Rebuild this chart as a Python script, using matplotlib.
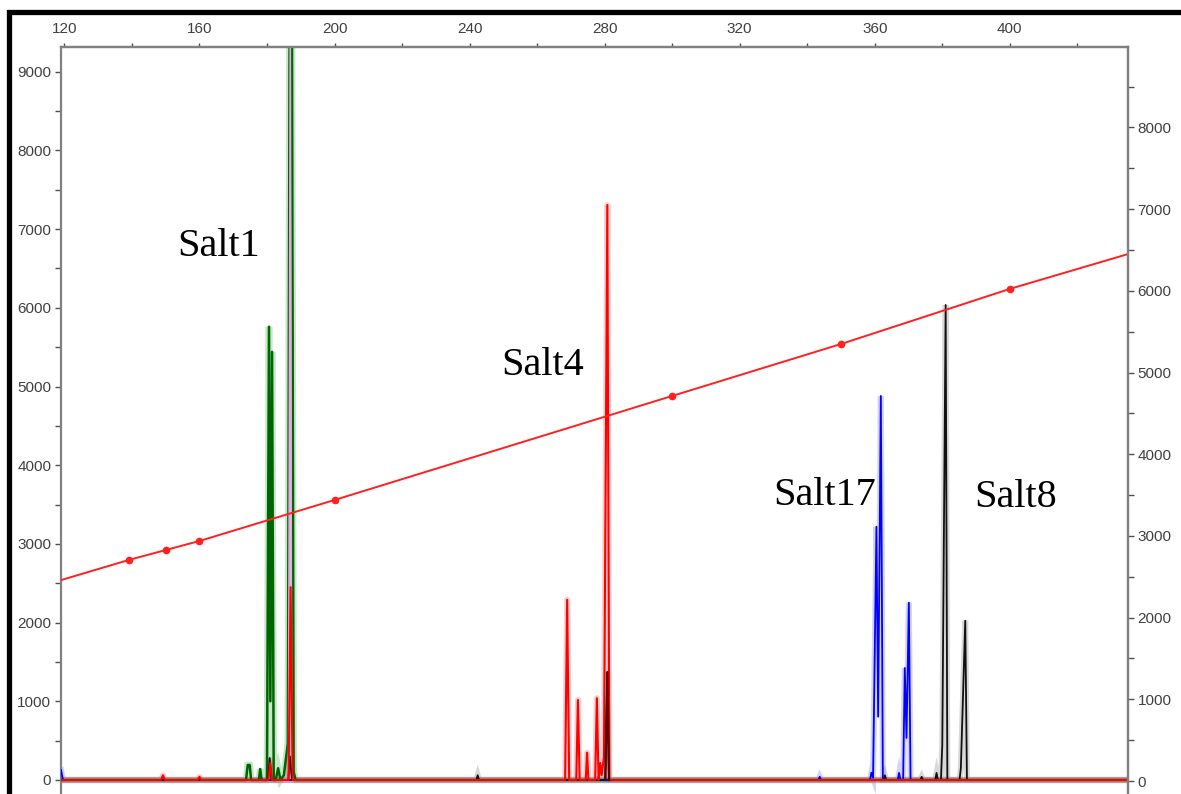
import matplotlib
matplotlib.use("Agg")
import matplotlib.pyplot as plt
from matplotlib.patches import Rectangle
from matplotlib.ticker import MultipleLocator

# size standard (bp) and fitted curve
std_bp = [139, 150, 160, 200, 300, 350, 400]
std_height = [2795, 2922, 3037, 3558, 4880, 5540, 6240]
fit_bp = [119, 139, 150, 160, 200, 300, 350, 400, 435]
fit_height = [2540, 2795, 2922, 3037, 3558, 4880, 5540, 6240, 6683]

# dye traces: (bp, rfu) vertices
green_bp = [119, 173.8, 174.3, 174.9, 175.3, 177.6, 178.0, 178.4, 180.0, 180.6, 181.0, 181.5, 182.0,
            182.6, 183.3, 184.0, 185.0, 186.2, 186.7, 187.4, 187.9, 188.5, 435]
green_rfu = [0, 0, 190, 190, 0, 0, 140, 0, 0, 5760, 1000, 5440, 0,
             0, 150, 0, 60, 470, 9500, 9500, 100, 0, 0]

pink_bp = [186.4, 186.9, 187.3]
pink_rfu = [0, 9500, 0]

red_bp = [119, 148.6, 149.2, 149.8, 159.5, 160.0, 160.5, 180.4, 181.0, 181.5, 186.4, 187.0, 187.6,
          268.3, 268.9, 269.5, 271.6, 272.1, 272.6, 274.4, 274.8, 275.2, 277.2, 277.7, 278.2,
          278.7, 279.1, 279.8, 280.8, 281.4, 435]
red_rfu = [0, 0, 60, 0, 0, 40, 0, 0, 216, 0, 0, 2450, 0,
           0, 2290, 0, 0, 1017, 0, 0, 347, 0, 0, 1040, 0,
           216, 60, 290, 7306, 0, 0]

black_bp = [119, 180.3, 180.8, 181.3, 186.3, 186.8, 187.4, 242.0, 242.4, 242.8, 280.2, 280.8, 281.3,
            362.6, 363.0, 363.4, 373.5, 373.9, 374.3, 377.9, 378.3, 378.7, 379.6, 380.0, 381.0, 381.5,
            385.1, 385.5, 386.8, 387.3, 435]
black_rfu = [0, 0, 280, 0, 0, 300, 0, 0, 60, 0, 0, 1370, 0,
             0, 60, 0, 0, 40, 0, 0, 90, 0, 0, 445, 6036, 0,
             0, 152, 2024, 0, 0]

blue_bp = [119, 119.6, 343.3, 343.7, 344.1, 358.6, 359.0, 359.5, 360.5, 361.0, 361.8, 362.4,
           366.8, 367.2, 367.6, 368.4, 368.9, 369.4, 370.1, 370.6, 435]
blue_rfu = [127, 0, 0, 40, 0, 0, 93, 30, 3218, 804, 4880, 0,
            0, 90, 0, 0, 1423, 534, 2253, 0, 0]

labels = ["Salt1", "Salt4", "Salt17", "Salt8"]
label_bp = [153.5, 249.4, 329.8, 389.6]
label_rfu = [6658, 5146, 3494, 3469]

W, H = 1181, 794
fig = plt.figure(figsize=(W / 100, H / 100), dpi=100)
ax = fig.add_axes([61 / W, 0, (1128 - 61) / W, (794 - 47) / H])

def trace(x, y, core, halo, lw=1.3, z=3):
    ax.plot(x, y, color=halo, lw=lw + 3, alpha=0.3, solid_joinstyle="miter", zorder=z - 1)
    ax.plot(x, y, color=core, lw=lw, zorder=z)

trace(green_bp, green_rfu, "#006400", "#3cb043", lw=1.8)
ax.plot(pink_bp, pink_rfu, color="#e8a8e8", lw=1.2, zorder=3)
trace(blue_bp, blue_rfu, "#0000ff", "#6a6aff", z=3.1)
trace(black_bp, black_rfu, "#111111", "#808080", z=3.2)
# red channel drawn last so its baseline sits on top
ax.plot(red_bp, red_rfu, color="#ff6060", lw=4.3, alpha=0.3, zorder=2.5)
ax.plot(red_bp, red_rfu, color="#ff0000", lw=1.5, zorder=3.3)
ax.plot(black_bp[10:13], black_rfu[10:13], color="#5a0000", lw=1.6, zorder=3.4)

# sizing curve
ax.plot(fit_bp, fit_height, color="#ff2020", lw=1.4, zorder=5)
ax.plot(std_bp, std_height, "o", color="#ff2020", ms=4.5, zorder=6)

for txt, x, y in zip(labels, label_bp, label_rfu):
    ax.text(x, y, txt, family="Liberation Serif", fontsize=29, ha="left", va="baseline",
            color="black", zorder=7)

ax.set_xlim(119, 435)
ax.set_ylim(-178, 9314)

ax.xaxis.tick_top()
ax.xaxis.set_major_locator(MultipleLocator(40))
ax.xaxis.set_minor_locator(MultipleLocator(20))
ax.yaxis.set_major_locator(MultipleLocator(1000))
ax.yaxis.set_minor_locator(MultipleLocator(500))

ax2 = ax.twinx()
ax2.set_ylim(-159, 8984)
ax2.yaxis.set_major_locator(MultipleLocator(1000))
ax2.yaxis.set_minor_locator(MultipleLocator(500))

for a in (ax, ax2):
    for side in ("left", "right", "top"):
        a.spines[side].set_color("#808080")
        a.spines[side].set_linewidth(1.6)
    a.spines["bottom"].set_visible(False)
    a.tick_params(which="both", direction="out", length=4, width=1, color="#505050",
                  labelsize=11, labelcolor="#404040", pad=3)
    for lab in a.get_xticklabels() + a.get_yticklabels():
        lab.set_family("Liberation Sans")
ax.tick_params(axis="x", which="both", length=3, pad=5)
ax2.spines["left"].set_visible(False)

# outer frame
fig.add_artist(Rectangle((9 / W, -0.05), 1.2, (794 - 11.5) / H + 0.05, transform=fig.transFigure,
                         fill=False, edgecolor="black", lw=3.8, clip_on=False))

fig.savefig("out.png", dpi=100)
